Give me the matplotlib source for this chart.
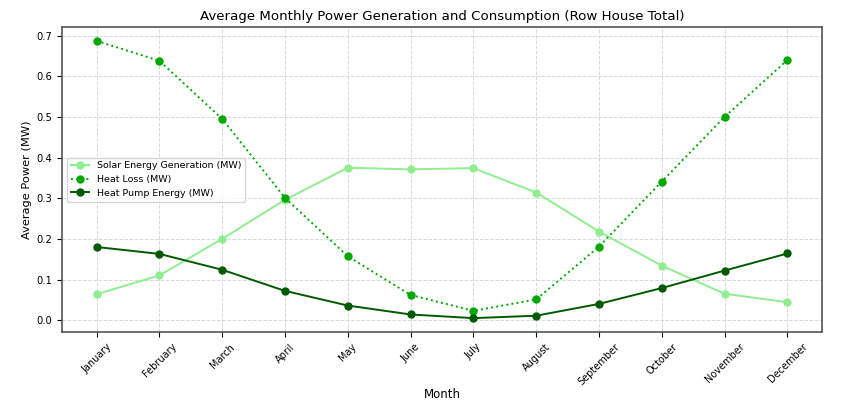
import matplotlib
matplotlib.use("Agg")
import matplotlib.pyplot as plt

months = ["January", "February", "March", "April", "May", "June", "July",
          "August", "September", "October", "November", "December"]
solar = [0.064, 0.110, 0.200, 0.296, 0.375, 0.371, 0.374, 0.314, 0.218, 0.134, 0.065, 0.044]
heat_loss = [0.687, 0.638, 0.495, 0.301, 0.157, 0.062, 0.023, 0.051, 0.181, 0.341, 0.500, 0.640]
heat_pump = [0.180, 0.163, 0.124, 0.072, 0.036, 0.014, 0.005, 0.011, 0.040, 0.079, 0.122, 0.164]

fig = plt.figure(figsize=(8.5, 4), dpi=100)
ax = fig.add_axes([0.073, 0.17, 0.894, 0.7625])

x = range(len(months))
ax.plot(x, solar, color="#90ee90", marker="o", markersize=5, linewidth=1.4,
        label="Solar Energy Generation (MW)")
ax.plot(x, heat_loss, color="#00a800", marker="o", markersize=5, linewidth=1.4,
        linestyle=":", label="Heat Loss (MW)")
ax.plot(x, heat_pump, color="#005a00", marker="o", markersize=5, linewidth=1.4,
        label="Heat Pump Energy (MW)")

ax.set_xticks(list(x))
ax.set_xticklabels(months, rotation=45, fontsize=7)
ax.tick_params(axis="y", labelsize=7.2)
ax.set_xlabel("Month", fontsize=8.5, labelpad=1)
ax.set_ylabel("Average Power (MW)", fontsize=8.2, labelpad=3)
ax.set_title("Average Monthly Power Generation and Consumption (Row House Total)",
             fontsize=9.6, pad=5)
ax.grid(True, linestyle="--", color="#d8d8d8", linewidth=0.7)
for s in ax.spines.values():
    s.set_color("#555555")
    s.set_linewidth(1.2)
ax.legend(loc="center left", fontsize=6.8, bbox_to_anchor=(0.0, 0.5))

fig.savefig("out.png", dpi=100)
